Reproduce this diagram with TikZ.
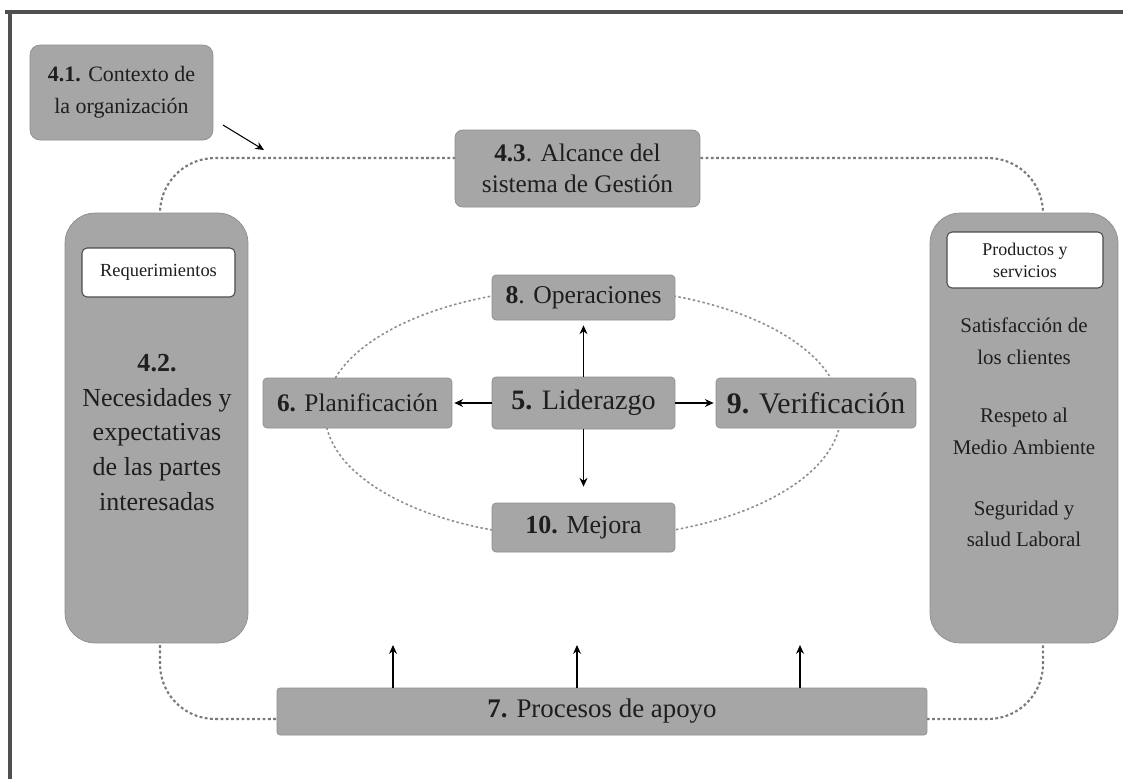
\documentclass[tikz,border=0pt]{standalone}
\usepackage{fontspec}
\setmainfont{Liberation Serif}
\usetikzlibrary{arrows.meta,calc}
\definecolor{boxgray}{HTML}{A6A6A6}
\definecolor{ink}{HTML}{1E1E1E}
\definecolor{frameline}{HTML}{505050}
\definecolor{dotgray}{HTML}{7A7A7A}

\begin{document}
\begin{tikzpicture}[x=0.02cm,y=-0.02cm,
  gbox/.style={fill=boxgray, draw=boxgray!85!black, line width=0.4pt,
    rounded corners=0.08cm, text=ink, align=center, inner sep=0pt},
  wbox/.style={fill=white, draw=black!70, line width=0.6pt,
    rounded corners=0.1cm, text=ink, align=center, inner sep=0pt},
  txt/.style={text=ink, align=center, inner sep=0pt},
  arr/.style={-{Stealth[length=5pt,width=4.5pt]}, line width=0.6pt, black},
  outerloop/.style={dotgray, line width=1.2pt, dash pattern=on 1.6pt off 1.4pt},
  ring/.style={dotgray!85, line width=0.9pt, dash pattern=on 1.4pt off 1.4pt}]

\useasboundingbox (0,0) rectangle (1123,779);

% page frame
\draw[frameline, line width=2.2pt] (5,12) -- (1123,12);
\draw[frameline, line width=2pt] (10,12) -- (10,779);

% dotted management-system loop and the inner cycle
\draw[outerloop, rounded corners=1.1cm] (160,158) rectangle (1043,719);
\draw[ring] (583,413) ellipse [x radius=5.16cm, y radius=2.5cm];

% context and scope
\node[gbox, rounded corners=0.2cm, minimum width=3.66cm, minimum height=1.9cm,
  font=\fontsize{12.5}{18}\selectfont] (ctx) at (121.5,92.5)
  {\textbf{4.1.} Contexto de\\la organización};
\node[gbox, rounded corners=0.15cm, minimum width=4.9cm, minimum height=1.54cm,
  font=\fontsize{14.4}{17.5}\selectfont] (alc) at (577.5,168.5)
  {\textbf{4.3}. Alcance del\\sistema de Gestión};

% interested parties (left column)
\node[gbox, rounded corners=0.6cm, minimum width=3.66cm, minimum height=8.6cm] (nec) at (156.5,428) {};
\node[wbox, minimum width=3.06cm, minimum height=0.98cm,
  font=\fontsize{10.5}{12.5}\selectfont] (req) at (158.5,272.5) {Requerimientos};
\node[txt, font=\fontsize{14.8}{19.8}\selectfont] (nectxt) at (157,432.5)
  {\textbf{4.2.}\\Necesidades y\\expectativas\\de las partes\\interesadas};

% products and services (right column)
\node[gbox, rounded corners=0.6cm, minimum width=3.76cm, minimum height=8.6cm] (res) at (1024,428) {};
\node[wbox, minimum width=3.12cm, minimum height=1.12cm,
  font=\fontsize{10.2}{12.5}\selectfont] (prod) at (1025,260) {Productos y\\servicios};
\node[txt, font=\fontsize{11.9}{18}\selectfont] (sat) at (1024,341) {Satisfacción de\\los clientes};
\node[txt, font=\fontsize{11.9}{18}\selectfont] (amb) at (1024,431.5) {Respeto al\\Medio Ambiente};
\node[txt, font=\fontsize{11.9}{18}\selectfont] (seg) at (1024,524) {Seguridad y\\salud Laboral};

% core cycle
\node[gbox, minimum width=3.66cm, minimum height=0.9cm,
  font=\fontsize{14.6}{17}\selectfont] (ope) at (583.5,297.5) {\textbf{8}. Operaciones};
\node[gbox, minimum width=3.66cm, minimum height=1.04cm,
  font=\fontsize{16}{18}\selectfont] (lid) at (583.5,403) {\textbf{5.} Liderazgo};
\node[gbox, minimum width=3.78cm, minimum height=1.0cm,
  font=\fontsize{14.4}{17}\selectfont] (pla) at (357.5,403) {\textbf{6.} Planificación};
\node[gbox, minimum width=4.0cm, minimum height=1.0cm,
  font=\fontsize{17}{19}\selectfont] (ver) at (816,403) {\textbf{9.} Verificación};
\node[gbox, minimum width=3.66cm, minimum height=0.98cm,
  font=\fontsize{14.8}{17}\selectfont] (mej) at (583.5,527.5) {\textbf{10.} Mejora};

% support processes
\node[gbox, rounded corners=0.06cm, minimum width=13cm, minimum height=0.94cm,
  font=\fontsize{15.3}{18}\selectfont] (pro) at (602,711.5) {\textbf{7.} Procesos de apoyo};

% connectors
\coordinate (ctxa) at (223,125);
\coordinate (ctxb) at (264,150);
\draw[arr] (ctxa) -- (ctxb);

\draw[arr, shorten >=0.1cm] (lid.north) -- (ope.south);
\draw[arr, shorten >=0.32cm] (lid.south) -- (mej.north);
\draw[arr, shorten >=0.04cm] (lid.west) -- (pla.east);
\draw[arr, shorten >=0.04cm] (lid.east) -- (ver.west);

\coordinate (up1) at (393,645);
\coordinate (up2) at (577,645);
\coordinate (up3) at (800,645);
\draw[arr] (pro.north -| up1) -- (up1);
\draw[arr] (pro.north -| up2) -- (up2);
\draw[arr] (pro.north -| up3) -- (up3);

\end{tikzpicture}
\end{document}
